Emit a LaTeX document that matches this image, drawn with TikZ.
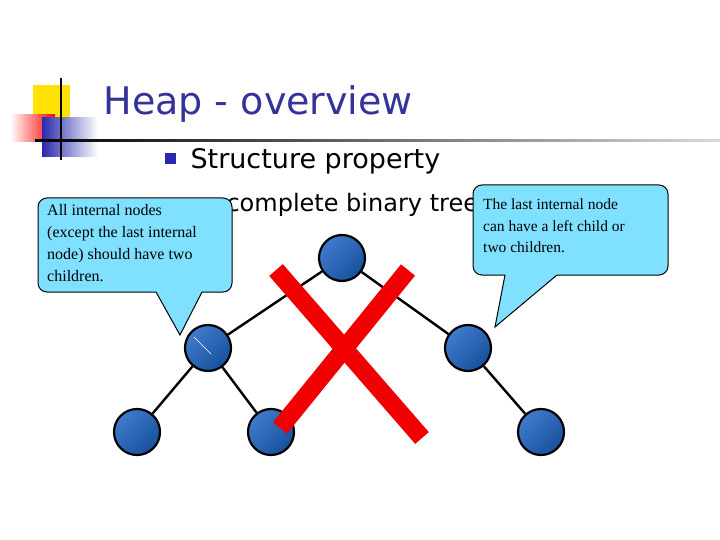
\documentclass[tikz,border=0pt]{standalone}
\usepackage{fontspec}
\setmainfont{Liberation Serif}
\setsansfont{DejaVu Sans}
\usetikzlibrary{positioning, shapes.geometric}
\definecolor{titleblue}{RGB}{51,51,153}
\definecolor{calloutcyan}{RGB}{128,224,255}
\definecolor{nodeblue}{RGB}{30,100,195}
\definecolor{xred}{RGB}{240,0,0}
\tikzset{
  heapnode/.style={draw=black, line width=2.2pt, ellipse, minimum width=46pt, minimum height=46pt,
    inner sep=0pt, top color=nodeblue!85!white, bottom color=nodeblue!80!black, shading angle=45},
  callout/.style={draw=black, line width=1pt, fill=calloutcyan},
  edge/.style={line width=2.4pt}
}
\begin{document}
\begin{tikzpicture}[x=1pt,y=-1pt]
		\useasboundingbox (0,0) rectangle (720,540);
		
		%Logo
		\fill[yellow!85!orange] (33,85) rectangle (70,120);
		\shade[left color=white, right color=red] (10,115) rectangle (55,142);
		\shade[left color=titleblue!80!blue, right color=white] (42,118) rectangle (98,157);
		\draw[line width=1.2pt] (61,78) -- (61,160);
		\shade[left color=black, right color=gray!30] (35,139.5) rectangle (720,142);
		
		%Title
		\node (title) at (100,104) [anchor=west, text=titleblue, font=\sffamily\fontsize{38}{40}\selectfont]{Heap - overview};
		\fill[titleblue!80!blue] (165,153) rectangle (176,164);
		\node (struct) at (187,161) [anchor=west, font=\sffamily\fontsize{27}{30}\selectfont]{Structure property};
		\node (complete) at (223,205) [anchor=west, font=\sffamily\fontsize{24}{26}\selectfont]{complete binary tree};
		
		%Tree
		\node (root) at (342,258) [heapnode]{};
		\node (left) at (208,348) [heapnode]{};
		\node (right) at (468,348) [heapnode]{};
		\node (leftLeft) at (137,432) [heapnode]{};
		\node (leftRight) at (271,432) [heapnode]{};
		\node (rightRight) at (541,432) [heapnode]{};
		\draw[edge] (root) -- (left);
		\draw[edge] (root) -- (right);
		\draw[edge] (left) -- (leftLeft);
		\draw[edge] (left) -- (leftRight);
		\draw[edge] (right) -- (rightRight);
		\draw[white, line width=0.6pt] (194,337) -- (211,354);
		
		%Cross
		\draw[xred, line width=18pt] (276,270) -- (422,438);
		\draw[xred, line width=18pt] (408,270) -- (280,428);
		
		%Callouts
		\filldraw[callout, rounded corners=9] (38,198) -- (232,198) -- (232,292) [sharp corners]-- (202,292) -- (180,335) -- (156,292) [rounded corners=9]-- (38,292) -- cycle;
		\node (leftText) at (47,204) [anchor=north west, align=left, inner sep=0pt, font=\fontsize{16}{22}\selectfont]{All internal nodes\\(except the last internal\\node) should have two\\children.};
		\filldraw[callout, rounded corners=9] (473,185) -- (668,185) -- (668,275) [sharp corners]-- (557,275) -- (495,327) -- (505,275) [rounded corners=9]-- (473,275) -- cycle;
		\node (rightText) at (483,199) [anchor=north west, align=left, inner sep=0pt, font=\fontsize{15.5}{21.5}\selectfont]{The last internal node\\can have a left child or\\two children.};
		
\end{tikzpicture}
\end{document}
